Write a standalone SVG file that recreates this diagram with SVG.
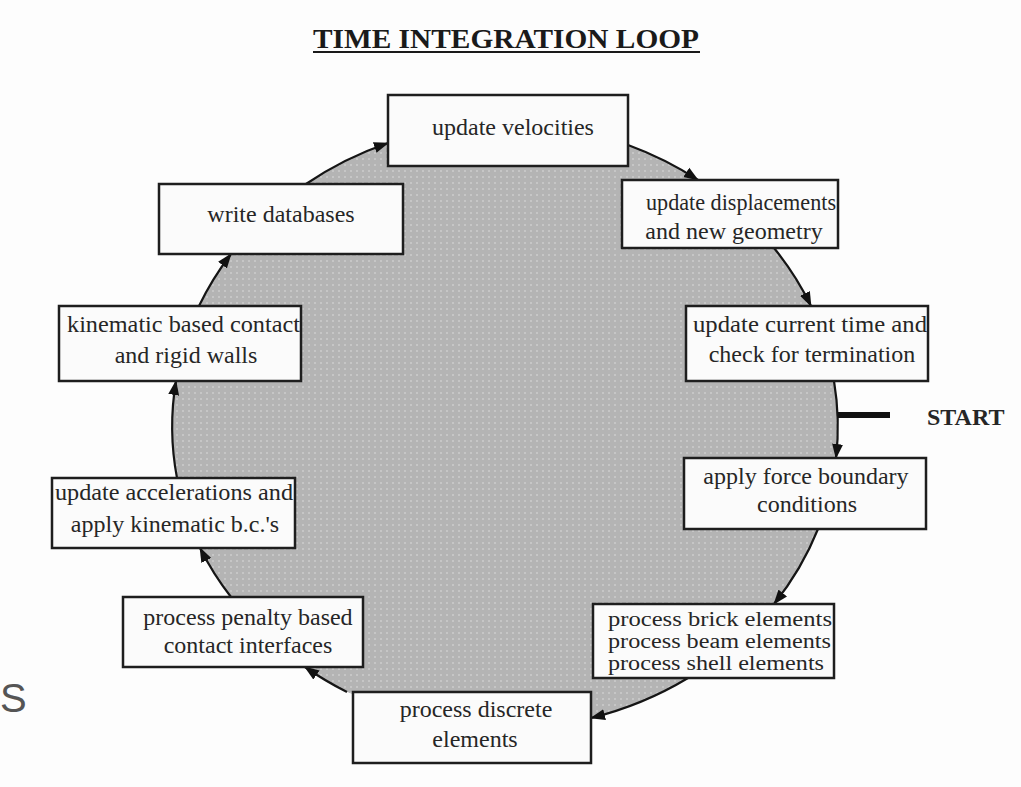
<svg xmlns="http://www.w3.org/2000/svg" width="1021" height="787" viewBox="0 0 1021 787">
<defs>
  <style>
    .box { fill: #fbfbfb; stroke: #1e1e1e; stroke-width: 2.5; }
    .t { font-family: "Liberation Serif", "Times New Roman", serif; font-size: 24px; fill: #262626; }
    .s { font-size: 20px; }
    .c { text-anchor: middle; }
    .conn { fill: none; stroke: #151515; stroke-width: 2.2; marker-end: url(#ah); }
  </style>
  <marker id="ah" markerUnits="userSpaceOnUse" markerWidth="16" markerHeight="12" refX="14" refY="6" orient="auto">
    <path d="M0,0.5 L15,6 L0,11.5 Z" fill="#111"/>
  </marker>
  <pattern id="stipple" width="6" height="6" patternUnits="userSpaceOnUse">
    <rect width="6" height="6" fill="#b4b4b4"/>
    <circle cx="3" cy="3" r="1" fill="#cdcdcd"/>
  </pattern>
</defs>
<rect width="1021" height="787" fill="#fdfdfd"/>

<g id="title">
  <text x="506" y="48" font-family="Liberation Serif, Times New Roman, serif" font-size="27" font-weight="bold" fill="#1a1a1a" text-anchor="middle" textLength="386" lengthAdjust="spacingAndGlyphs">TIME INTEGRATION LOOP</text>
  <line x1="313" y1="52" x2="700" y2="52" stroke="#1a1a1a" stroke-width="2"/>
</g>

<g id="loop-disc">
  <ellipse cx="505" cy="426" rx="333" ry="302" fill="url(#stipple)"/>
</g>

<g id="connectors">
  <path class="conn" d="M306,184 A333,302 0 0 1 388,143"/>
  <path class="conn" d="M628,145 A333,302 0 0 1 698,180"/>
  <path class="conn" d="M774,248 A333,302 0 0 1 811,306"/>
  <path class="conn" d="M834,381 A333,302 0 0 1 836,458"/>
  <path class="conn" d="M818,529 A333,302 0 0 1 774,604"/>
  <path class="conn" d="M688,678 A333,302 0 0 1 591,718"/>
  <path class="conn" d="M347,692 A333,302 0 0 1 305,667"/>
  <path class="conn" d="M231,597 A333,302 0 0 1 200,548"/>
  <path class="conn" d="M177,478 A333,302 0 0 1 176,381"/>
  <path class="conn" d="M199,306 A333,302 0 0 1 231,254"/>
</g>

<g id="update-velocities">
  <rect class="box" x="388" y="95" width="240" height="71"/>
  <text class="t c" x="513" y="135">update velocities</text>
</g>

<g id="update-displacements">
  <rect class="box" x="622" y="180" width="216" height="68"/>
  <text class="t" x="646" y="210" textLength="190" lengthAdjust="spacingAndGlyphs">update displacements</text>
  <text class="t c" x="734" y="239">and new geometry</text>
</g>

<g id="update-current-time">
  <rect class="box" x="686" y="306" width="242" height="75"/>
  <text class="t" x="693" y="332" textLength="234" lengthAdjust="spacingAndGlyphs">update current time and</text>
  <text class="t c" x="812" y="362">check for termination</text>
</g>

<g id="start">
  <line x1="838" y1="415" x2="890" y2="415" stroke="#111" stroke-width="6"/>
  <text x="927" y="425" font-family="Liberation Serif, Times New Roman, serif" font-size="24" font-weight="bold" fill="#262626">START</text>
</g>

<g id="apply-force">
  <rect class="box" x="684" y="458" width="242" height="71"/>
  <text class="t c" x="806" y="484">apply force boundary</text>
  <text class="t c" x="807" y="512">conditions</text>
</g>

<g id="process-elements">
  <rect class="box" x="593" y="604" width="241" height="74"/>
  <text class="t s" x="608" y="626" textLength="224" lengthAdjust="spacingAndGlyphs">process brick elements</text>
  <text class="t s" x="608" y="648" textLength="223" lengthAdjust="spacingAndGlyphs">process beam elements</text>
  <text class="t s" x="608" y="670" textLength="216" lengthAdjust="spacingAndGlyphs">process shell elements</text>
</g>

<g id="process-discrete">
  <rect class="box" x="353" y="692" width="238" height="71"/>
  <text class="t c" x="476" y="717">process discrete</text>
  <text class="t c" x="475" y="747">elements</text>
</g>

<g id="process-penalty">
  <rect class="box" x="123" y="597" width="240" height="70"/>
  <text class="t c" x="248" y="625">process penalty based</text>
  <text class="t c" x="248" y="653">contact interfaces</text>
</g>

<g id="update-accelerations">
  <rect class="box" x="52" y="478" width="243" height="70"/>
  <text class="t" x="55" y="500" textLength="238" lengthAdjust="spacingAndGlyphs">update accelerations and</text>
  <text class="t c" x="175" y="532">apply kinematic b.c.'s</text>
</g>

<g id="kinematic-contact">
  <rect class="box" x="59" y="306" width="242" height="75"/>
  <text class="t" x="67" y="332" textLength="233" lengthAdjust="spacingAndGlyphs">kinematic based contact</text>
  <text class="t c" x="186" y="363">and rigid walls</text>
</g>

<g id="write-databases">
  <rect class="box" x="159" y="184" width="244" height="70"/>
  <text class="t c" x="281" y="222">write databases</text>
</g>

<g id="stray-letter">
  <text x="0" y="712" font-family="Liberation Sans, Arial, sans-serif" font-size="40" fill="#555">S</text>
</g>
</svg>
